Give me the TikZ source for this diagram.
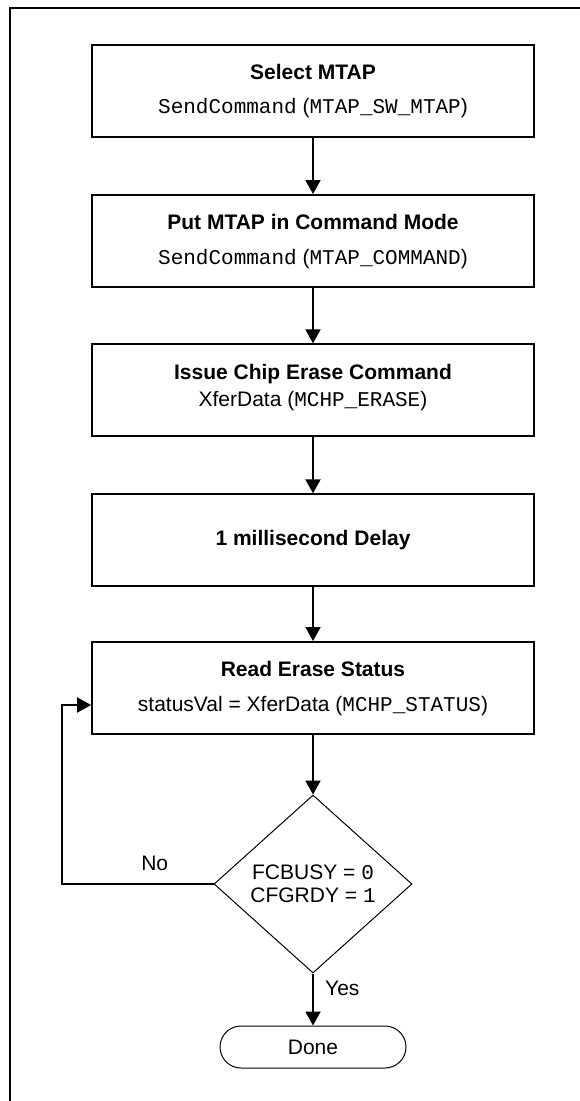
\documentclass[tikz,border=0pt]{standalone}
\usepackage{fontspec}
\setmainfont{Liberation Sans}
\newfontfamily\courfont{Liberation Mono}
\usetikzlibrary{arrows.meta,shapes.geometric,shapes.misc}
\newcommand{\mycode}[1]{{\courfont #1}}
\begin{document}
\begin{tikzpicture}[x=1pt,y=-1pt,
  box/.style={draw,line width=1.8pt,minimum width=442pt,minimum height=92pt,inner sep=0pt,anchor=north},
  ttl/.style={font=\fontsize{21}{25}\selectfont\bfseries,anchor=base,inner sep=0pt},
  sub/.style={font=\fontsize{21}{25}\selectfont,anchor=base,inner sep=0pt},
  arr/.style={line width=2pt,-{Triangle[width=15pt,length=14pt]}},
  frame/.style={line width=2pt}
  ]
\useasboundingbox (0,0) rectangle (580,1101);
\clip (0,0) rectangle (580,1101);
\draw[frame] (10,1110) -- (10,8) -- (590,8);

\node[box] (b1) at (313,43.7) {};
\node[box] (b2) at (313,194) {};
\node[box] (b3) at (313,343.3) {};
\node[box] (b4) at (313,493.3) {};
\node[box] (b5) at (313,641) {};

\node[ttl] (t1) at (313,79.3) {Select MTAP};
\node[sub] (s1) at (313,113.3) {\mycode{SendCommand} (\mycode{MTAP\_SW\_MTAP})};
\node[ttl] (t2) at (313,229) {Put MTAP in Command Mode};
\node[sub] (s2) at (313,264) {\mycode{SendCommand} (\mycode{MTAP\_COMMAND})};
\node[ttl] (t3) at (313,379) {Issue Chip Erase Command};
\node[sub] (s3) at (313,406.7) {XferData (\mycode{MCHP\_ERASE})};
\node[ttl] (t4) at (313,545.7) {1 millisecond Delay};
\node[ttl] (t5) at (313,676) {Read Erase Status};
\node[sub] (s5) at (313,711) {statusVal = XferData (\mycode{MCHP\_STATUS})};

\node[draw,diamond,line width=1pt,minimum width=198pt,minimum height=178pt,inner sep=0pt] (dec) at (313,884) {};
\node[sub] (d1) at (313,879) {FCBUSY = \mycode{0}};
\node[sub] (d2) at (313,902.7) {CFGRDY = \mycode{1}};

\node[draw,rounded rectangle,line width=1pt,minimum width=186pt,minimum height=42pt,inner sep=0pt,font=\fontsize{21}{25}\selectfont] (done) at (313,1047) {Done};

\draw[arr] (b1.south) -- (b2.north);
\draw[arr] (b2.south) -- (b3.north);
\draw[arr] (b3.south) -- (b4.north);
\draw[arr] (b4.south) -- (b5.north);
\draw[arr] (b5.south) -- (dec.north);
\draw[arr] (dec.south) -- (done.north);

\coordinate (c1) at (61.7,884);
\coordinate (c2) at (61.7,705);
\draw[arr] (dec.west) -- (c1) -- (c2) -- (b5.west |- c2);

\node[sub] (no) at (154.7,870.7) {No};
\node[sub,anchor=base west] (yes) at (325,995.7) {Yes};
\end{tikzpicture}
\end{document}
